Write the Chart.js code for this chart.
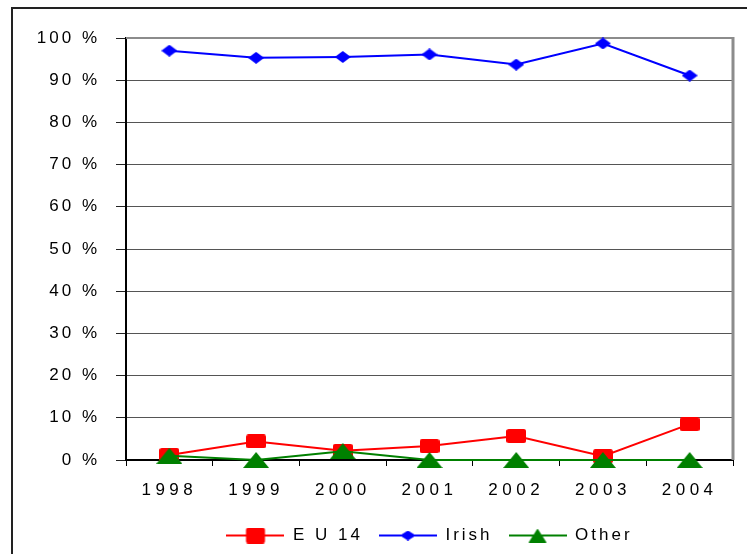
<!DOCTYPE html>
<html><head><meta charset="utf-8">
<script src="https://cdn.jsdelivr.net/npm/chart.js@4/dist/chart.umd.min.js"></script>
<style>html,body{margin:0;padding:0;background:#fff;overflow:hidden}#wrap{width:747px;height:554px;position:relative}</style>
</head><body><div id="wrap"><canvas id="c" width="747" height="554"></canvas></div>
<script>
const categories = ['1998', '1999', '2000', '2001', '2002', '2003', '2004'];
const seriesNames = ['E U 14', 'Irish', 'Other'];
const euValues = [1.2, 4.4, 2.2, 3.3, 5.7, 0.9, 8.5];
const irishValues = [97.0, 95.3, 95.5, 96.1, 93.7, 98.7, 91.1];
const otherValues = [1.0, 0.0, 2.1, 0.0, 0.0, 0.0, 0.0];
const yTickLabels = ['0 %', '10 %', '20 %', '30 %', '40 %', '50 %', '60 %', '70 %', '80 %', '90 %', '100 %'];
const seriesColors = ['#ff0000', '#0000ff', '#008000'];

const FONT = '"Liberation Sans", Arial, sans-serif';

function marker(shape, w, h, color, lineLen) {
  const cw = lineLen || w, ch = h;
  const c = document.createElement('canvas');
  c.width = cw; c.height = ch;
  const g = c.getContext('2d');
  if (lineLen) {
    g.strokeStyle = color; g.lineWidth = 2;
    g.beginPath(); g.moveTo(0, ch / 2); g.lineTo(cw, ch / 2); g.stroke();
  }
  const x0 = (cw - w) / 2;
  g.fillStyle = color;
  g.beginPath();
  if (shape === 'rect') {
    g.roundRect(x0, 0, w, h, 2.5);
  } else if (shape === 'diamond') {
    g.moveTo(x0 + w / 2, 0); g.lineTo(x0 + w, h / 2); g.lineTo(x0 + w / 2, h); g.lineTo(x0, h / 2); g.closePath();
  } else {
    g.moveTo(x0 + w / 2, 0); g.lineTo(x0 + w, h); g.lineTo(x0, h); g.closePath();
  }
  g.fill();
  return c;
}

const pointImgs = [
  marker('rect', 20, 14, seriesColors[0]),
  marker('diamond', 16, 12, seriesColors[1]),
  marker('triangle', 26, 16, seriesColors[2])
];
const legendImgs = [
  marker('rect', 19, 16, seriesColors[0], 58),
  marker('diamond', 16, 10, seriesColors[1], 58),
  marker('triangle', 18, 14, seriesColors[2], 58)
];

const framePlugin = {
  id: 'frame',
  beforeUpdate(chart) { chart.ctx.letterSpacing = '3px'; },
  beforeLayout(chart) { chart.ctx.letterSpacing = '3px'; },
  afterLayout(chart) {
    const s = chart.scales.x;
    if (!s._lsWrapped) {
      const orig = s.drawLabels;
      s.drawLabels = function (a) {
        const ctx = this.ctx; const prev = ctx.letterSpacing;
        ctx.letterSpacing = '4.5px';
        orig.call(this, a);
        ctx.letterSpacing = prev;
      };
      s._lsWrapped = true;
    }
  },
  beforeDraw(chart) {
    const ctx = chart.ctx;
    ctx.letterSpacing = '3px';
    ctx.save();
    ctx.fillStyle = '#fff'; ctx.fillRect(0, 0, chart.width, chart.height);
    ctx.strokeStyle = '#222'; ctx.lineWidth = 2;
    ctx.beginPath(); ctx.moveTo(12, chart.height + 5); ctx.lineTo(12, 8); ctx.lineTo(chart.width + 5, 8); ctx.stroke();
    ctx.restore();
  },
  beforeDatasetsDraw(chart) {
    const {left, right, top, bottom} = chart.chartArea;
    const ctx = chart.ctx;
    ctx.save();
    ctx.strokeStyle = '#8c8c8c';
    ctx.lineWidth = 2;
    ctx.beginPath(); ctx.moveTo(left, top); ctx.lineTo(right, top); ctx.stroke();
    ctx.lineWidth = 3;
    ctx.beginPath(); ctx.moveTo(right, top - 1); ctx.lineTo(right, bottom); ctx.stroke();
    ctx.restore();
  }
};

const seriesValues = [euValues, irishValues, otherValues];
const orders = [2, 3, 1];

new Chart(document.getElementById('c'), {
  type: 'line',
  data: {
    labels: categories,
    datasets: seriesNames.map((name, i) => ({
      label: name,
      data: seriesValues[i],
      borderColor: seriesColors[i],
      backgroundColor: seriesColors[i],
      borderWidth: 2,
      pointStyle: pointImgs[i],
      pointRadius: 5,
      tension: 0,
      clip: false,
      order: orders[i]
    }))
  },
  options: {
    responsive: false,
    animation: false,
    events: [],
    layout: { padding: { left: 0, right: 14, top: 38, bottom: 0 } },
    plugins: {
      tooltip: { enabled: false },
      legend: {
        position: 'bottom',
        fullSize: false,
        labels: {
          usePointStyle: true,
          pointStyleWidth: 58,
          padding: 16,
          color: '#000',
          font: { family: FONT, size: 17 },
          generateLabels: () => seriesNames.map((n, i) => ({
            text: n, pointStyle: legendImgs[i], fillStyle: seriesColors[i],
            strokeStyle: seriesColors[i], lineWidth: 0, hidden: false, datasetIndex: i, fontColor: '#000'
          }))
        }
      }
    },
    scales: {
      x: {
        type: 'category',
        offset: true,
        grid: { display: true, drawOnChartArea: false, drawTicks: true, tickLength: 6, color: '#000', offset: true },
        border: { display: true, color: '#000', width: 2 },
        ticks: { color: '#000', font: { family: FONT, size: 17 }, padding: 14, maxRotation: 0, autoSkip: false },
        afterFit: s => { s.height = 51; }
      },
      y: {
        min: 0, max: 100,
        ticks: { stepSize: 10, callback: (v, i) => yTickLabels[i], padding: 16, color: '#000', font: { family: FONT, size: 17 } },
        grid: { color: '#555', lineWidth: 1, tickLength: 10, tickColor: '#222', drawTicks: true },
        border: { display: true, color: '#000', width: 2 },
        afterFit: s => { s.width = 126; }
      }
    }
  },
  plugins: [framePlugin]
});
</script>
</body></html>
